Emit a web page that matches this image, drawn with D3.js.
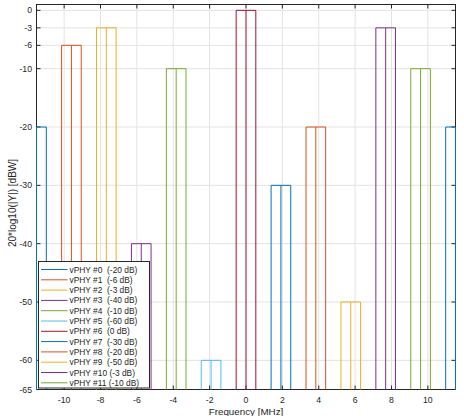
<!DOCTYPE html>
<html><head><meta charset="utf-8">
<script src="https://cdn.jsdelivr.net/npm/d3@7"></script>
<style>
html,body{margin:0;padding:0;background:#fff;}
svg{display:block;font-family:"Liberation Sans",Arial,sans-serif;}
</style></head>
<body><svg id="c" width="464" height="416"></svg>
<script>
// ---- data ----
const vphyNames = ["vPHY #0","vPHY #1","vPHY #2","vPHY #3","vPHY #4","vPHY #5","vPHY #6","vPHY #7","vPHY #8","vPHY #9","vPHY #10","vPHY #11"];
const vphyLevels = [-20,-6,-3,-40,-10,-60,0,-30,-20,-50,-3,-10];           // dBW
const vphyCenters = [-11.52,-9.6,-7.68,-5.76,-3.84,-1.92,0,1.92,3.84,5.76,7.68,9.6]; // MHz
const wrapCopies = [{idx:0, center:11.52}];   // vPHY #0 wraps around to the right edge
const bandwidth = 1.08; // MHz
const xTicks = [-10,-8,-6,-4,-2,0,2,4,6,8,10];
const yTicks = [-65,-60,-50,-40,-30,-20,-10,-6,-3,0];
const xDomain = [-11.52, 11.52];
const yDomain = [-65, 1];
const colors = ["#0072BD","#D95319","#EDB120","#7E2F8E","#77AC30","#4DBEEE","#A2142F"];

// ---- layout ----
const L=36.5, R=455.5, T=4.5, B=389.5;
const svg=d3.select("#c");
const x=d3.scaleLinear().domain(xDomain).range([L,R]);
const y=d3.scaleLinear().domain(yDomain).range([B,T]);
const axisCol="#262626", gridCol="#e3e3e3";

svg.append("defs").append("clipPath").attr("id","clip")
  .append("rect").attr("x",L-1).attr("y",T-1).attr("width",R-L+2).attr("height",B-T+2);

// grid
const g=svg.append("g");
g.selectAll(".gx").data(xTicks).join("line")
  .attr("x1",d=>x(d)).attr("x2",d=>x(d)).attr("y1",T).attr("y2",B)
  .attr("stroke",gridCol).attr("stroke-width",1);
g.selectAll(".gy").data(yTicks).join("line")
  .attr("y1",d=>y(d)).attr("y2",d=>y(d)).attr("x1",L).attr("x2",R)
  .attr("stroke",gridCol).attr("stroke-width",1);

// axes box
svg.append("rect").attr("x",L).attr("y",T).attr("width",R-L).attr("height",B-T)
  .attr("fill","none").attr("stroke",axisCol).attr("stroke-width",1);

// ticks
const tl=4;
const tk=svg.append("g").attr("stroke",axisCol).attr("stroke-width",1);
xTicks.forEach(t=>{
  tk.append("line").attr("x1",x(t)).attr("x2",x(t)).attr("y1",B).attr("y2",B-tl);
  tk.append("line").attr("x1",x(t)).attr("x2",x(t)).attr("y1",T).attr("y2",T+tl);
});
yTicks.forEach(t=>{
  tk.append("line").attr("y1",y(t)).attr("y2",y(t)).attr("x1",L).attr("x2",L+tl);
  tk.append("line").attr("y1",y(t)).attr("y2",y(t)).attr("x1",R).attr("x2",R-tl);
});

// bars
const marks = vphyCenters.map((c,i)=>({idx:i,center:c})).concat(wrapCopies);
const pg=svg.append("g").attr("clip-path","url(#clip)");
pg.selectAll("path.bar").data(marks).join("path")
  .attr("fill","none")
  .attr("stroke",d=>colors[d.idx%colors.length])
  .attr("stroke-width",1)
  .attr("d",d=>{
    const lv=vphyLevels[d.idx];
    const x0=Math.max(L,x(d.center-bandwidth/2)), xc=x(d.center), x1=Math.min(R,x(d.center+bandwidth/2));
    const yb=y(yDomain[0]), yt=y(lv);
    return `M${x0},${yb}L${x0},${yt}L${xc},${yt}L${xc},${yb}M${xc},${yt}L${x1},${yt}L${x1},${yb}`;
  });

// tick labels
svg.append("g").selectAll("text").data(xTicks).join("text")
  .attr("x",d=>x(d)).attr("y",403).attr("text-anchor","middle")
  .attr("font-size","8.7px").attr("fill",axisCol).text(d=>d);
svg.append("g").selectAll("text").data(yTicks).join("text")
  .attr("x",32).attr("y",d=>y(d)+3).attr("text-anchor","end")
  .attr("font-size","8.7px").attr("fill",axisCol).text(d=>d);

// axis labels
svg.append("text").attr("x",(L+R)/2).attr("y",414.5).attr("text-anchor","middle")
  .attr("font-size","9.8px").attr("fill",axisCol).text("Frequency [MHz]");
svg.append("text").attr("transform",`translate(15.5,203) rotate(-90)`)
  .attr("text-anchor","middle").attr("font-size","10px").attr("fill",axisCol)
  .text("20*log10(|Y|) [dBW]");

// legend
const lx=38.5, ly=261.5, lw=111, lh=126.5;
const lg=svg.append("g");
lg.append("rect").attr("x",lx).attr("y",ly).attr("width",lw).attr("height",lh)
  .attr("fill","#fff").attr("stroke",axisCol).attr("stroke-width",1);
vphyNames.forEach((n,i)=>{
  const yy=269.5+i*10.3;
  lg.append("line").attr("x1",41).attr("x2",67.5).attr("y1",yy).attr("y2",yy)
    .attr("stroke",colors[i%colors.length]).attr("stroke-width",1);
  const label = (n.length<8? n+"  " : n+" ") + "(" + vphyLevels[i] + " dB)";
  lg.append("text").attr("x",69.5).attr("y",yy+3).attr("font-size","8.4px")
    .attr("fill",axisCol).style("white-space","pre").text(label);
});
</script></body></html>
